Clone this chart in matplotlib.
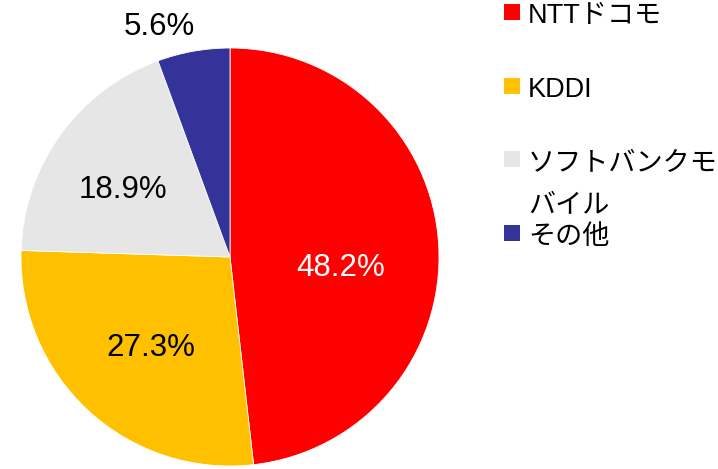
import matplotlib
matplotlib.use("Agg")
import matplotlib.pyplot as plt
import numpy as np
from matplotlib.patches import Rectangle

plt.rcParams['font.family'] = ['Liberation Sans', 'Noto Sans CJK JP', 'DejaVu Sans']

labels = ["NTTドコモ", "KDDI", "ソフトバンクモ\nバイル", "その他"]
shares = [48.2, 27.3, 18.9, 5.6]
colors = ["#FF0000", "#FFC000", "#E6E6E6", "#333399"]
pct_colors = ["white", "black", "black", "black"]
# label placement (distance from centre in radii, angular shift in degrees)
pct_dist = [0.53, 0.576, 0.604, 1.15]
pct_shift = [-9.0, 1.7, 4.0, 7.0]

W, H = 718, 469
fig = plt.figure(figsize=(W / 100, H / 100), dpi=100)
cx, cy, r = 230, 257, 209
ax = fig.add_axes([(cx - r) / W, (H - cy - r) / H, 2 * r / W, 2 * r / H])
wedges, _ = ax.pie(shares, colors=colors, startangle=90, counterclock=False,
                   wedgeprops=dict(linewidth=0.6, edgecolor="white"))
for w in wedges:
    w.set_clip_on(False)
ax.set_xlim(-1, 1)
ax.set_ylim(-1, 1)
ax.set_aspect("equal")
ax.axis("off")

for w, val, c, d, sh in zip(wedges, shares, pct_colors, pct_dist, pct_shift):
    th = np.deg2rad((w.theta1 + w.theta2) / 2 + sh)
    ax.text(d * np.cos(th), d * np.sin(th), f"{val:.1f}%", color=c,
            fontsize=22.5, ha="center", va="center", clip_on=False)

# legend
leg_y = [12.5, 86.5, 159.5, 233]
for lab, col, y in zip(labels, colors, leg_y):
    s = 16
    fig.add_artist(Rectangle((504 / W, (H - y - s / 2) / H), s / W, s / H,
                             transform=fig.transFigure, facecolor=col, edgecolor="none"))
    if "\n" in lab:
        fig.text(528 / W, (H - y + 9) / H, lab, fontsize=19.5, ha="left",
                 va="top", linespacing=1.85)
    else:
        fig.text(528 / W, (H - y - 3.5) / H, lab, fontsize=19.5, ha="left",
                 va="center")

fig.savefig("out.png", dpi=100)
